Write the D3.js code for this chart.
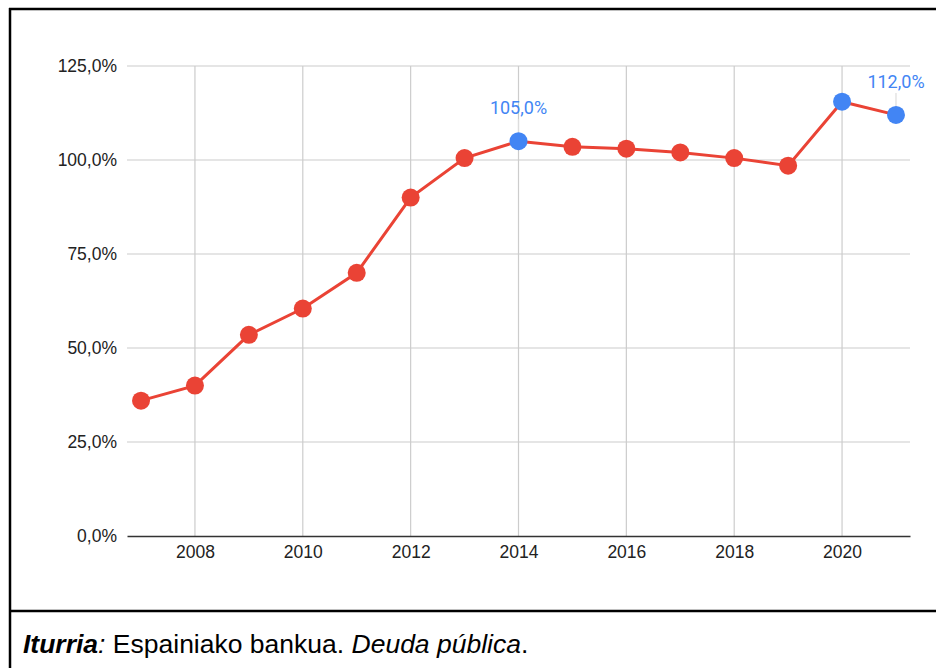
<!DOCTYPE html>
<html><head><meta charset="utf-8">
<script src="https://cdn.jsdelivr.net/npm/d3@7/dist/d3.min.js"></script>
<style>
html,body{margin:0;padding:0;background:#fff;}
svg{display:block;}
</style></head>
<body>
<svg id="chart" width="936" height="668"></svg>
<script>
const years = [2007,2008,2009,2010,2011,2012,2013,2014,2015,2016,2017,2018,2019,2020,2021];
const debt = [36,40,53.5,60.5,70,90,100.5,105,103.5,103,102,100.5,98.5,115.5,112];
const highlightYears = [2014,2020,2021];
const labelYears = [2014,2021];
const yTicks = [0,25,50,75,100,125];
const xTicks = [2008,2010,2012,2014,2016,2018,2020];
const sourceParts = [
  {text:"Iturria", weight:"bold", style:"italic"},
  {text:":", weight:"normal", style:"italic"},
  {text:" Espainiako bankua. ", weight:"normal", style:"normal"},
  {text:"Deuda pública", weight:"normal", style:"italic"},
  {text:".", weight:"normal", style:"normal"}
];

const svg = d3.select("#chart");
const fmt = v => d3.format(".1f")(v).replace(".", ",") + "%";

const x = d3.scaleLinear().domain([2006.74, 2021.26]).range([127, 910]);
const y = d3.scaleLinear().domain([0, 125]).range([536, 66]);

// frame
svg.append("line").attr("x1",9).attr("x2",936).attr("y1",9).attr("y2",9).attr("stroke","#000").attr("stroke-width",2.5);
svg.append("line").attr("x1",10).attr("x2",10).attr("y1",8).attr("y2",668).attr("stroke","#000").attr("stroke-width",2.5);
svg.append("line").attr("x1",9).attr("x2",936).attr("y1",611).attr("y2",611).attr("stroke","#000").attr("stroke-width",2.5);

// gridlines
const g = svg.append("g");
g.selectAll(".hg").data(yTicks.filter(d=>d>0)).enter().append("line")
  .attr("x1",x.range()[0]).attr("x2",x.range()[1])
  .attr("y1",d=>y(d)).attr("y2",d=>y(d))
  .attr("stroke","#cccccc").attr("stroke-width",1.2);
g.selectAll(".vg").data(xTicks).enter().append("line")
  .attr("x1",d=>x(d)).attr("x2",d=>x(d))
  .attr("y1",y(125)).attr("y2",y(0))
  .attr("stroke","#cccccc").attr("stroke-width",1.2);

// axes
const yAxis = d3.axisLeft(y).tickValues(yTicks).tickSize(0).tickPadding(10).tickFormat(fmt);
const ya = svg.append("g").attr("transform",`translate(${x.range()[0]},0)`).call(yAxis);
ya.select(".domain").remove();
ya.selectAll("text").attr("font-family","Liberation Sans, Arial, sans-serif").attr("font-size",17.5).attr("fill","#222");

const xAxis = d3.axisBottom(x).tickValues(xTicks).tickSize(0).tickPadding(10).tickFormat(d3.format("d"));
const xa = svg.append("g").attr("transform",`translate(0,${y(0)})`).call(xAxis);
xa.select(".domain").attr("stroke","#333").attr("stroke-width",1.5);
xa.selectAll("text").attr("font-family","Liberation Sans, Arial, sans-serif").attr("font-size",17.5).attr("fill","#222");

// line
const data = years.map((yr,i)=>({year:yr, v:debt[i]}));
svg.append("path").datum(data)
  .attr("d", d3.line().x(d=>x(d.year)).y(d=>y(d.v)))
  .attr("fill","none").attr("stroke","#EA4335").attr("stroke-width",3);

// leader lines + labels
const labeled = data.filter(d=>labelYears.includes(d.year));
svg.selectAll(".lead").data(labeled).enter().append("line")
  .attr("x1",d=>x(d.year)).attr("x2",d=>x(d.year))
  .attr("y1",d=>y(d.v)-22).attr("y2",d=>y(d.v))
  .attr("stroke","#dddddd").attr("stroke-width",1.2);

svg.selectAll(".pt").data(data).enter().append("circle")
  .attr("cx",d=>x(d.year)).attr("cy",d=>y(d.v)).attr("r",9)
  .attr("fill",d=>highlightYears.includes(d.year)?"#4285F4":"#EA4335");

svg.selectAll(".lbl").data(labeled).enter().append("text")
  .attr("x",d=>x(d.year)).attr("y",d=>y(d.v)-27)
  .attr("text-anchor","middle")
  .attr("font-family","Roboto, sans-serif").attr("font-size",18)
  .attr("fill","#4285F4")
  .text(d=>fmt(d.v));

// source
const src = svg.append("text").attr("x",23).attr("y",653)
  .attr("font-family","Liberation Sans, Arial, sans-serif").attr("font-size",26.5).attr("fill","#000");
src.selectAll("tspan").data(sourceParts).enter().append("tspan")
  .attr("font-weight",d=>d.weight).attr("font-style",d=>d.style)
  .text(d=>d.text);
</script>
</body></html>
